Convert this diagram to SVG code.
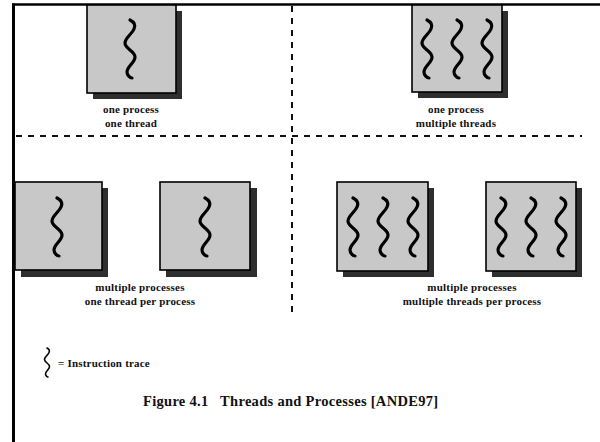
<svg xmlns="http://www.w3.org/2000/svg" xmlns:xlink="http://www.w3.org/1999/xlink" width="600" height="442" viewBox="0 0 600 442">
<style>
.box{fill:#c8c8c8;stroke:#000;stroke-width:1.6}
.shadow{fill:#2e2e2e}
.sq{fill:none;stroke:#000;stroke-width:3.2;stroke-linecap:round}
.lbl{font-family:"Liberation Serif","Times New Roman",serif;font-weight:bold;font-size:11px;letter-spacing:0.2px;fill:#111;text-anchor:middle}
.dash{stroke:#111;stroke-width:2;stroke-dasharray:6 6;fill:none}
.border{stroke:#000;fill:none}
</style>
<defs>
<path id="squig" d="M 0,0 C 4,2 6,5 4,9 C 2,14 -5,18 -5,23 C -5,29 5,31 5,37 C 5,43 -3,46 -3,52 C -3,55 0,58 2,58"/>
</defs>
<g id="frame">
<line class="border" x1="12" y1="4.5" x2="600" y2="4.5" stroke-width="2.5"/>
<line class="border" x1="13.5" y1="3.5" x2="13.5" y2="442" stroke-width="3"/>
</g>
<g id="connectors">
<line class="dash" x1="16" y1="136" x2="582" y2="136"/>
<line class="dash" x1="292" y1="6" x2="292" y2="312" stroke-dasharray="5 8"/>
</g>
<g id="one-process-one-thread">
<rect class="shadow" x="93" y="11" width="89" height="88"/>
<rect class="box" x="87" y="5" width="89" height="88"/>
<use href="#squig" class="sq" transform="translate(130,20)"/>
<text class="lbl" x="131" y="113">one process</text>
<text class="lbl" x="131" y="127">one thread</text>
</g>
<g id="one-process-multiple-threads">
<rect class="shadow" x="418" y="11" width="90" height="87"/>
<rect class="box" x="412" y="5" width="90" height="87"/>
<use href="#squig" class="sq" transform="translate(427,20)"/>
<use href="#squig" class="sq" transform="translate(457,20)"/>
<use href="#squig" class="sq" transform="translate(487,20)"/>
<text class="lbl" x="456" y="113">one process</text>
<text class="lbl" x="456" y="127">multiple threads</text>
</g>
<g id="multiple-processes-one-thread">
<rect class="shadow" x="21" y="188" width="87" height="89"/>
<rect class="box" x="15" y="182" width="87" height="88"/>
<use href="#squig" class="sq" transform="translate(57,198)"/>
<rect class="shadow" x="166" y="188" width="91" height="89"/>
<rect class="box" x="160" y="182" width="90" height="88"/>
<use href="#squig" class="sq" transform="translate(205,198)"/>
<text class="lbl" x="140" y="291">multiple processes</text>
<text class="lbl" x="140" y="305">one thread per process</text>
</g>
<g id="multiple-processes-multiple-threads">
<rect class="shadow" x="343" y="188" width="91" height="89"/>
<rect class="box" x="337" y="182" width="91" height="89"/>
<use href="#squig" class="sq" transform="translate(353,198)"/>
<use href="#squig" class="sq" transform="translate(383,198)"/>
<use href="#squig" class="sq" transform="translate(413,198)"/>
<rect class="shadow" x="492" y="188" width="90" height="89"/>
<rect class="box" x="486" y="182" width="90" height="89"/>
<use href="#squig" class="sq" transform="translate(501,198)"/>
<use href="#squig" class="sq" transform="translate(531,198)"/>
<use href="#squig" class="sq" transform="translate(561,198)"/>
<text class="lbl" x="472" y="291">multiple processes</text>
<text class="lbl" x="472" y="305">multiple threads per process</text>
</g>
<g id="legend">
<use href="#squig" class="sq" transform="translate(47,348) scale(0.5)" stroke-width="4"/>
<text class="lbl" x="58" y="367" style="text-anchor:start">= Instruction trace</text>
</g>
<g id="caption">
<text x="143" y="406" font-family="'Liberation Serif','Times New Roman',serif" font-weight="bold" font-size="14.5" letter-spacing="0.3" fill="#111" xml:space="preserve">Figure 4.1   Threads and Processes [ANDE97]</text>
</g>
</svg>
